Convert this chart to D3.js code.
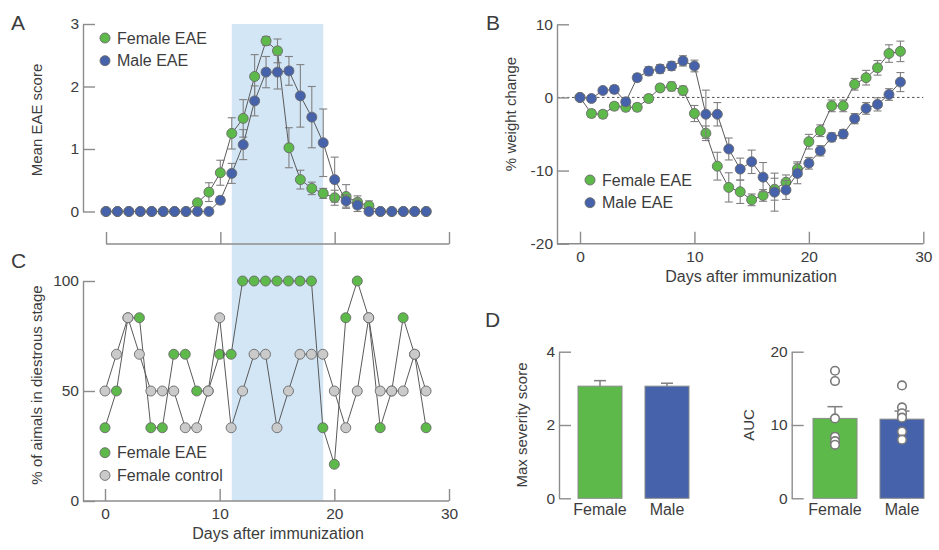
<!DOCTYPE html>
<html>
<head>
<meta charset="utf-8">
<script src="https://cdn.jsdelivr.net/npm/d3@7"></script>
<style>
  body { margin: 0; background: #fff; }
  svg { display: block; font-family: "Liberation Sans", Arial, Helvetica, sans-serif; }
</style>
</head>
<body>
<svg id="fig" width="939" height="550"></svg>
<script>
// ---- data ----------------------------------------------------------------
const days = [0,1,2,3,4,5,6,7,8,9,10,11,12,13,14,15,16,17,18,19,20,21,22,23,24,25,26,27,28];

// A: mean EAE clinical score (mean ± SEM)
const scoreFemale    = [0,0,0,0,0,0,0,0,0.14,0.31,0.62,1.25,1.49,2.16,2.73,2.57,1.02,0.51,0.37,0.29,0.22,0.24,0.15,0.09,0,0,0,0,0];
const scoreFemaleErr = [0,0,0,0,0,0,0,0,0.05,0.15,0.2,0.25,0.3,0.35,0.07,0.19,0.32,0.15,0.1,0.08,0.12,0.19,0.1,0.08,0,0,0,0,0];
const scoreMale      = [0,0,0,0,0,0,0,0,0,0,0.18,0.61,1.07,1.77,2.23,2.23,2.25,1.85,1.51,1.1,0.51,0.17,0.1,0,0,0,0,0,0];
const scoreMaleErr   = [0,0,0,0,0,0,0,0,0,0,0.06,0.16,0.24,0.24,0.25,0.27,0.23,0.5,0.49,0.54,0.36,0.1,0.1,0,0,0,0,0,0];

// B: % weight change (mean ± SEM)
const weightFemale    = [0,-2.2,-2.3,-1.2,-1.35,-1.35,-0.15,1.3,1.5,0.95,-2.2,-4.9,-9.4,-12.3,-12.9,-14.0,-13.4,-12.55,-11.6,-9.8,-6.05,-4.55,-1.15,-1.15,1.8,2.7,4.05,6.0,6.3];
const weightFemaleErr = [0,0.5,0.5,0.5,0.5,0.5,0.5,0.5,0.6,0.6,1.1,1.0,1.9,2.0,1.6,0.8,0.8,1.5,1.0,1.0,1.0,0.8,0.8,0.8,0.8,1.0,1.0,1.2,1.4];
const weightMale      = [0,-0.15,0.95,1.1,-0.6,2.7,3.6,3.9,4.3,5.0,4.3,-2.3,-2.3,-7.05,-9.8,-8.8,-10.9,-12.95,-12.65,-10.4,-9.0,-7.3,-5.45,-5.0,-2.9,-1.5,-0.95,0.4,2.1];
const weightMaleErr   = [0,0.4,0.4,0.5,0.5,0.5,0.6,0.6,0.6,0.7,0.8,3.3,1.6,1.5,1.5,1.6,2.0,2.6,1.3,1.4,0.8,0.7,0.6,0.6,0.7,0.8,0.9,0.8,1.3];

// C: % of animals in diestrous stage
const diestrusEAE     = [33.3,50,83.3,83.3,33.3,33.3,66.7,66.7,50,50,66.7,66.7,100,100,100,100,100,100,100,33.3,16.7,83.3,100,83.3,33.3,50,83.3,66.7,33.3];
const diestrusControl = [50,66.7,83.3,66.7,50,50,50,33.3,33.3,50,83.3,33.3,50,66.7,66.7,33.3,50,66.7,66.7,66.7,50,33.3,50,83.3,50,50,50,66.7,50];

// D: max severity and area under the curve
const groups      = ["Female", "Male"];
const maxScore    = [3.06, 3.06];
const maxScoreErr = [0.15, 0.08];
const aucMean     = [10.9, 10.8];
const aucErr      = [1.6, 1.1];
const aucFemale   = [17.4, 16.0, 10.9, 8.4, 7.8, 7.3];
const aucMale     = [15.4, 12.4, 11.6, 11.0, 9.1, 8.0];

// shaded interval (days)
const shadeDays = [11, 19];

// tick labels
const scoreTicks = [0, 1, 2, 3];
const weightTicks = [-20, -10, 0, 10];
const dayTicks = [0, 10, 20, 30];
const diestrusTicks = [0, 50, 100];
const maxTicks = [0, 2, 4];
const aucTicks = [0, 10, 20];

// ---- style ---------------------------------------------------------------
const GREEN = "#5dba4a", BLUE = "#4562ab", GREY = "#cacaca";
const AXIS = "#8c8c8c", TEXT = "#3c3c3c", LINE = "#5a5a5a", ERR = "#808080";

const svg = d3.select("#fig");
const plain = d => String(d);   // plain integers with a hyphen-minus

function styleAxis(g) {
  g.selectAll(".domain").attr("stroke", AXIS).attr("stroke-width", 1.4);
  g.selectAll(".tick line").attr("stroke", AXIS).attr("stroke-width", 1.4);
  g.selectAll(".tick text").attr("fill", TEXT).attr("font-size", 15.5)
    .attr("font-family", "Liberation Sans, Arial, sans-serif");
}

function yAxis(scale, x, ticks) {
  const g = svg.append("g").attr("transform", `translate(${x},0)`)
    .call(d3.axisLeft(scale).tickValues(ticks).tickFormat(plain)
      .tickSizeInner(-12).tickSizeOuter(0).tickPadding(4));
  styleAxis(g);
  return g;
}

function xAxis(scale, y, x0, ticks, labels) {
  const g = svg.append("g").attr("transform", `translate(0,${y})`)
    .call(d3.axisBottom(scale).tickValues(ticks).tickSizeInner(-12).tickSizeOuter(0).tickPadding(7)
      .tickFormat(labels ? plain : () => ""));
  g.select(".domain").remove();
  g.insert("line", ":first-child").attr("x1", x0).attr("x2", scale(ticks[ticks.length - 1]))
    .attr("stroke", AXIS).attr("stroke-width", 1.4);
  styleAxis(g);
  return g;
}

function text(x, y, str, opts = {}) {
  const t = svg.append("text").attr("x", x).attr("y", y).text(str)
    .attr("fill", TEXT).attr("font-size", opts.size || 15)
    .attr("text-anchor", opts.anchor || "start");
  if (opts.rotate) t.attr("transform", `rotate(-90,${x},${y})`);
  return t;
}

function series(xs, ys, vals, errs, fill, r = 5) {
  const g = svg.append("g");
  if (errs) {
    const eb = g.append("g").attr("stroke", ERR).attr("stroke-width", 1.1);
    days.forEach((d, i) => {
      if (!errs[i]) return;
      const x = xs(d), y1 = ys(vals[i] - errs[i]), y2 = ys(vals[i] + errs[i]);
      eb.append("line").attr("x1", x).attr("x2", x).attr("y1", y1).attr("y2", y2);
      eb.append("line").attr("x1", x - 4).attr("x2", x + 4).attr("y1", y1).attr("y2", y1);
      eb.append("line").attr("x1", x - 4).attr("x2", x + 4).attr("y1", y2).attr("y2", y2);
    });
  }
  const line = d3.line().x((d, i) => xs(days[i])).y(d => ys(d));
  g.append("path").datum(vals).attr("d", line).attr("fill", "none")
    .attr("stroke", LINE).attr("stroke-width", 1);
  g.selectAll("circle").data(vals).join("circle")
    .attr("cx", (d, i) => xs(days[i])).attr("cy", d => ys(d)).attr("r", r)
    .attr("fill", fill).attr("stroke", "#6a6a6a").attr("stroke-width", 0.9);
}

function legend(x, y, items) {
  items.forEach((it, i) => {
    svg.append("circle").attr("cx", x).attr("cy", y + i * 22.7).attr("r", 5)
      .attr("fill", it[1]).attr("stroke", "#6a6a6a").attr("stroke-width", 0.9);
    text(x + 12, y + i * 22.7 + 5.5, it[0], { size: 16 });
  });
}

// ---- scales --------------------------------------------------------------
const xA = d3.scaleLinear().domain([0, 30]).range([106, 449]);
const yA = d3.scaleLinear().domain([0, 3]).range([211.5, 24]);
const xB = d3.scaleLinear().domain([0, 30]).range([580, 923.3]);
const yB = d3.scaleLinear().domain([-20, 10]).range([243.7, 24.3]);
const xC = d3.scaleLinear().domain([0, 30]).range([105, 449]);
const yC = d3.scaleLinear().domain([0, 100]).range([501, 281]);

// shaded interval spanning panels A and C
svg.append("rect")
  .attr("x", xA(shadeDays[0])).attr("width", xA(shadeDays[1]) - xA(shadeDays[0]))
  .attr("y", yA(3)).attr("height", yC(0) - yA(3))
  .attr("fill", "#d3e6f6");

// ---- panel A ---------------------------------------------------------------
yAxis(yA, 83, scoreTicks);
xAxis(xA, 244, xA(0), dayTicks, false);
series(xA, yA, scoreFemale, scoreFemaleErr, GREEN);
series(xA, yA, scoreMale, scoreMaleErr, BLUE);
legend(105, 38, [["Female EAE", GREEN], ["Male EAE", BLUE]]);
text(42, 120, "Mean EAE score", { anchor: "middle", rotate: true });
text(11, 30, "A", { size: 21 });

// ---- panel B ---------------------------------------------------------------
svg.append("line").attr("x1", 557).attr("x2", xB(30)).attr("y1", yB(0)).attr("y2", yB(0))
  .attr("stroke", "#555").attr("stroke-width", 1).attr("stroke-dasharray", "2.5,2.5");
yAxis(yB, 557, weightTicks);
xAxis(xB, 243.7, 557, dayTicks, true);
series(xB, yB, weightFemale, weightFemaleErr, GREEN);
series(xB, yB, weightMale, weightMaleErr, BLUE);
legend(590, 180, [["Female EAE", GREEN], ["Male EAE", BLUE]]);
text(516, 114, "% weight change", { anchor: "middle", rotate: true });
text(751, 282, "Days after immunization", { anchor: "middle", size: 16 });
text(486, 30, "B", { size: 21 });

// ---- panel C ---------------------------------------------------------------
yAxis(yC, 83, diestrusTicks);
xAxis(xC, 501, 83, dayTicks, true);
series(xC, yC, diestrusEAE, null, GREEN);
series(xC, yC, diestrusControl, null, GREY);
legend(105, 452.7, [["Female EAE", GREEN], ["Female control", GREY]]);
text(42, 385, "% of aimals in diestrous stage", { anchor: "middle", rotate: true });
text(278, 539, "Days after immunization", { anchor: "middle", size: 16 });
text(11, 268, "C", { size: 21 });

// ---- panel D ---------------------------------------------------------------
text(485, 327, "D", { size: 21 });

function barPanel(axisX, r0, r1, yScale, ticks, means, errs, capHalf, label, labelX, dots) {
  const xb = d3.scaleBand().domain(groups).range([r0, r1]).paddingInner(0.343).paddingOuter(0.3);
  const colors = [GREEN, BLUE];
  yAxis(yScale, axisX, ticks);
  groups.forEach((g, i) => {
    const cx = xb(g) + xb.bandwidth() / 2;
    svg.append("line").attr("x1", cx).attr("x2", cx)
      .attr("y1", yScale(means[i])).attr("y2", yScale(means[i] + errs[i]))
      .attr("stroke", ERR).attr("stroke-width", 1.5);
    svg.append("line").attr("x1", cx - capHalf).attr("x2", cx + capHalf)
      .attr("y1", yScale(means[i] + errs[i])).attr("y2", yScale(means[i] + errs[i]))
      .attr("stroke", ERR).attr("stroke-width", 1.5);
    svg.append("rect").attr("x", xb(g)).attr("width", xb.bandwidth())
      .attr("y", yScale(means[i])).attr("height", yScale(0) - yScale(means[i]))
      .attr("fill", colors[i]).attr("stroke", "#8a8a8a").attr("stroke-width", 1);
    if (dots) {
      svg.append("g").selectAll("circle").data(dots[i]).join("circle")
        .attr("cx", cx).attr("cy", d => yScale(d)).attr("r", 4.3)
        .attr("fill", "#fff").attr("stroke", "#7a7a7a").attr("stroke-width", 1.6);
    }
    text(cx, 515, g, { anchor: "middle", size: 16 });
  });
  text(labelX, (yScale.range()[0] + yScale.range()[1]) / 2, label, { anchor: "middle", rotate: true });
}

const yD1 = d3.scaleLinear().domain([0, 4]).range([498.3, 351.7]);
const yD2 = d3.scaleLinear().domain([0, 20]).range([498.3, 351.7]);
barPanel(559, 557.9, 709.1, yD1, maxTicks, maxScore, maxScoreErr, 6, "Max severity score", 527, null);
barPanel(791.7, 792.9, 944.1, yD2, aucTicks, aucMean, aucErr, 7.5, "AUC", 754, [aucFemale, aucMale]);
</script>
</body>
</html>
